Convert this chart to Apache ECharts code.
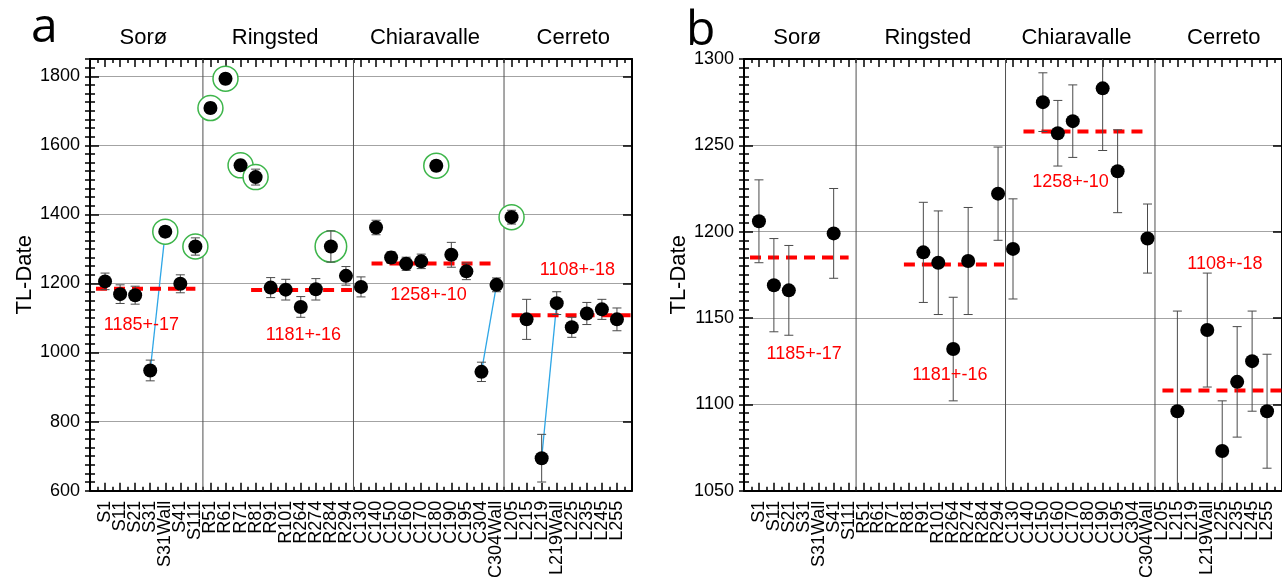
<!DOCTYPE html>
<html>
<head>
<meta charset="utf-8">
<script src="https://cdn.jsdelivr.net/npm/echarts@6/dist/echarts.min.js"></script>
<style>
  html, body { margin: 0; padding: 0; background: #fff; }
  #chart { width: 1282px; height: 581px; }
</style>
</head>
<body>
<div id="chart"></div>
<script>
// TL dates of the brick samples, ordered by site
const samples = ['S1','S11','S21','S31','S31Wall','S41','S111',
  'R51','R61','R71','R81','R91','R101','R264','R274','R284','R294',
  'C130','C140','C150','C160','C170','C180','C190','C195','C304','C304Wall',
  'L205','L215','L219','L219Wall','L225','L235','L245','L255'];
const tlDate = [1206, 1169, 1166, 948, 1350, 1199, 1307,
  1708, 1793, 1542, 1508, 1188, 1182, 1132, 1183, 1307, 1222,
  1190, 1362, 1275, 1257, 1264, 1541, 1283, 1235, 944, 1196,
  1392, 1096, 694, 1143, 1073, 1113, 1125, 1096];
const tlErr = [24, 27, 26, 30, 15, 26, 25,
  15, 15, 15, 23, 29, 30, 30, 31, 45, 27,
  29, 21, 17, 19, 21, 15, 36, 24, 28, 20,
  20, 58, 69, 33, 29, 32, 29, 33];

// samples ringed as outliers (left out of the zoomed panel)
const outliers = ['S31Wall','S111','R51','R61','R71','R81','R284','C180','L205'];
// wall samples linked to their partner sample
const wallPairs = [['S31','S31Wall'], ['C304','C304Wall'], ['L219','L219Wall']];

// sites with their mean date, spread and the stretch the mean line covers
const sites = ['Sorø','Ringsted','Chiaravalle','Cerreto'];
const siteMean = [1185, 1181, 1258, 1108];
const siteSd = [17, 16, 10, 18];
const meanFrom = [0.4, 10.7, 18.7, 28.0];
const meanTo = [7.0, 17.4, 26.7, 36];

// value-axis ticks of the two panels
const yTicksA = { min: 600, max: 1850, step: 200, minor: 25 };
const yTicksB = { min: 1050, max: 1300, step: 50, minor: 5 };

// ---- layout ----
const FONT = '"Liberation Sans", Arial, Helvetica, sans-serif';
const X_MAX = samples.length + 1;
const titleX = [3.55, 12.3, 22.25, 32.1];
const panels = [
  { letter: 'a', letterPos: [31, 28], grid: { left: 90, top: 59, width: 542, height: 438 },
    ticks: yTicksA, full: true,
    labelPos: [[3.42, 1079], [14.18, 1050], [22.49, 1167], [32.37, 1238]] },
  { letter: 'b', letterPos: [686, 31], grid: { left: 744, top: 59, width: 546, height: 438 },
    ticks: yTicksB, full: false,
    labelPos: [[4.02, 1129], [13.77, 1117], [21.85, 1229], [32.18, 1181]] }
];

// boundaries between sites, where the sample prefix letter changes
const dividers = [];
for (let i = 1; i < samples.length; i++) {
  if (samples[i][0] !== samples[i - 1][0]) dividers.push(i + 0.5);
}

function seg(p0, p1, style) {
  return { type: 'line', shape: { x1: p0[0], y1: p0[1], x2: p1[0], y2: p1[1] }, style: style };
}

const grids = [], xAxes = [], yAxes = [], series = [], graphics = [];

panels.forEach((p, gi) => {
  const t = p.ticks;
  const pxPerUnit = p.grid.height / (t.max - t.min);
  grids.push(Object.assign({ containLabel: false }, p.grid));

  // category positions on a value scale: sample i sits at i + 1
  const xBase = {
    type: 'value', gridIndex: gi, min: 0, max: X_MAX, interval: 1,
    axisLine: { onZero: false, lineStyle: { color: '#000', width: 2 } },
    axisTick: { inside: true, length: 8, lineStyle: { color: '#000', width: 1.5 } },
    minorTick: { show: true, splitNumber: 2, length: 4, lineStyle: { color: '#000', width: 1.5 } },
    splitLine: { show: false }
  };
  xAxes.push(Object.assign({}, xBase, {
    position: 'bottom',
    axisLabel: { rotate: 90, margin: 10, fontSize: 18, color: '#000', fontFamily: FONT,
      formatter: v => samples[v - 1] || '' }
  }));
  xAxes.push(Object.assign({}, xBase, { position: 'top', axisLabel: { show: false } }));

  const tick = len => ({ inside: true, length: len, lineStyle: { color: '#000', width: 1.5 } });
  const yBase = { type: 'value', gridIndex: gi, min: t.min, max: t.max, interval: t.step };
  yAxes.push(Object.assign({}, yBase, {
    position: 'left',
    axisLine: { show: true, onZero: false, lineStyle: { color: '#000', width: 2 } },
    axisTick: tick(9),
    splitLine: { show: true, lineStyle: { color: '#a3a3a3', width: 1 } },
    axisLabel: { fontSize: 18, color: '#000', fontFamily: FONT, margin: 10,
      formatter: v => (v % t.step === 0 ? String(v) : '') },
    name: 'TL-Date', nameLocation: 'middle', nameGap: 54,
    nameTextStyle: { fontSize: 22, color: '#000', fontFamily: FONT }
  }));
  yAxes.push(Object.assign({}, yBase, {
    interval: t.minor, position: 'left', axisLine: { show: false }, axisTick: tick(5),
    axisLabel: { show: false }, splitLine: { show: false }
  }));
  yAxes.push(Object.assign({}, yBase, {
    position: 'right', axisLine: { show: true, onZero: false, lineStyle: { color: '#000', width: 2 } },
    axisTick: tick(9), axisLabel: { show: false }, splitLine: { show: false }
  }));
  yAxes.push(Object.assign({}, yBase, {
    interval: t.minor, position: 'right', axisLine: { show: false }, axisTick: tick(5),
    axisLabel: { show: false }, splitLine: { show: false }
  }));

  const xi = gi * 2, yi = gi * 4;
  const onAxes = { xAxisIndex: xi, yAxisIndex: yi, silent: true };

  const pts = samples.map((s, i) => [i + 1, tlDate[i], tlErr[i]])
    .filter((d, i) => p.full || outliers.indexOf(samples[i]) < 0);

  // site dividers
  series.push(Object.assign({
    type: 'custom', z: 1, clip: true,
    data: dividers.map(x => [x, t.min]),
    renderItem: (params, api) => seg(api.coord([api.value(0), t.min]), api.coord([api.value(0), t.max]),
      { stroke: '#505050', lineWidth: 1 })
  }, onAxes));

  if (p.full) {
    // links from each sample to its wall sample
    series.push(Object.assign({
      type: 'custom', z: 2, clip: true,
      data: wallPairs.map(pr => {
        const a = samples.indexOf(pr[0]), b = samples.indexOf(pr[1]);
        return [a + 1, tlDate[a], b + 1, tlDate[b]];
      }),
      renderItem: (params, api) => seg(api.coord([api.value(0), api.value(1)]),
        api.coord([api.value(2), api.value(3)]), { stroke: '#2ea6e6', lineWidth: 1.3 })
    }, onAxes));

    // outlier rings
    series.push(Object.assign({
      type: 'scatter', z: 3,
      data: samples.map((s, i) => [i + 1, tlDate[i], tlErr[i]]).filter((d, i) => outliers.indexOf(samples[i]) >= 0),
      symbol: 'circle',
      symbolSize: v => Math.max(25, 2 * v[2] * pxPerUnit),
      itemStyle: { color: '#fff', opacity: 1, borderColor: '#3db54a', borderWidth: 1.5 }
    }, onAxes));
  }

  // site mean lines
  series.push(Object.assign({
    type: 'custom', z: 4, clip: true,
    data: sites.map((s, k) => [meanFrom[k], siteMean[k], meanTo[k]]),
    renderItem: (params, api) => seg(api.coord([api.value(0), api.value(1)]),
      api.coord([api.value(2), api.value(1)]),
      { stroke: '#ff0000', lineWidth: 4, lineDash: [11, 7] })
  }, onAxes));

  // error bars
  series.push(Object.assign({
    type: 'custom', z: 5, clip: true,
    data: pts,
    renderItem: (params, api) => {
      const x = api.value(0), v = api.value(1), e = api.value(2);
      const top = api.coord([x, v + e]), bot = api.coord([x, v - e]);
      const st = { stroke: '#4a4a4a', lineWidth: 1 };
      return { type: 'group', children: [
        seg(top, bot, st),
        seg([top[0] - 4.5, top[1]], [top[0] + 4.5, top[1]], st),
        seg([bot[0] - 4.5, bot[1]], [bot[0] + 4.5, bot[1]], st)
      ] };
    }
  }, onAxes));

  // sample dates
  series.push(Object.assign({
    type: 'scatter', z: 6, data: pts, symbol: 'circle', symbolSize: 14,
    itemStyle: { color: '#000', opacity: 1 }
  }, onAxes));

  // mean labels
  series.push(Object.assign({
    type: 'custom', z: 7, clip: false,
    data: p.labelPos,
    renderItem: (params, api) => {
      const c = api.coord([api.value(0), api.value(1)]);
      const k = params.dataIndex;
      return { type: 'text', x: c[0], y: c[1], style: {
        text: siteMean[k] + '+-' + siteSd[k], fill: '#ff0000',
        font: '18px ' + FONT, align: 'center', verticalAlign: 'middle' } };
    }
  }, onAxes));

  // site names above the frame
  series.push(Object.assign({
    type: 'custom', z: 7, clip: false,
    data: titleX.map(x => [x, t.max]),
    renderItem: (params, api) => {
      const c = api.coord([api.value(0), t.max]);
      return { type: 'text', x: c[0], y: c[1] - 21, style: {
        text: sites[params.dataIndex], fill: '#000',
        font: '22px ' + FONT, align: 'center', verticalAlign: 'middle' } };
    }
  }, onAxes));

  graphics.push({ type: 'text', x: p.letterPos[0], y: p.letterPos[1], silent: true,
    style: { text: p.letter, fill: '#000', font: '48px "Open Sans", "Noto Sans", sans-serif',
      align: 'left', verticalAlign: 'middle' } });
});

const chart = echarts.init(document.getElementById('chart'), null, { renderer: 'canvas' });
chart.setOption({
  animation: false,
  backgroundColor: '#fff',
  grid: grids,
  xAxis: xAxes,
  yAxis: yAxes,
  series: series,
  graphic: graphics
});
</script>
</body>
</html>
